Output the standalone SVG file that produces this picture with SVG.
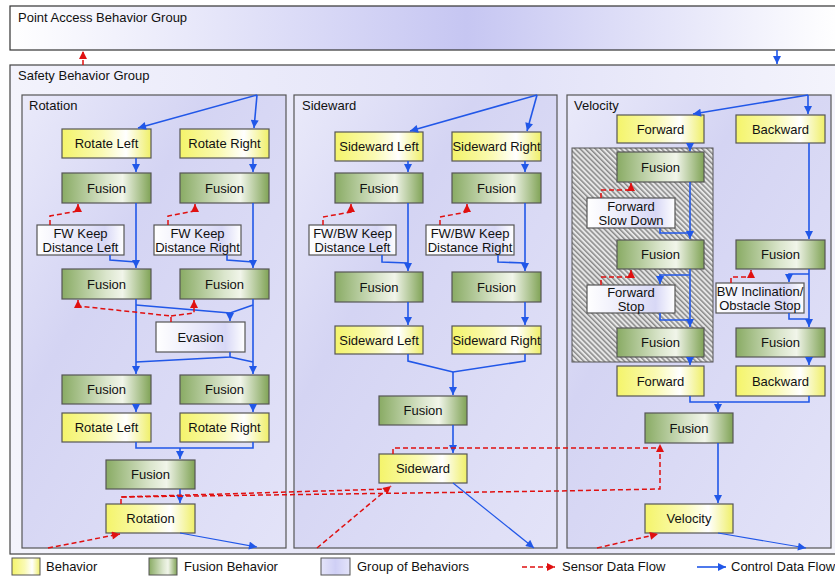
<svg xmlns="http://www.w3.org/2000/svg" width="835" height="579" viewBox="0 0 835 579">
<defs>
<linearGradient id="gBeh" x1="0" y1="0" x2="1" y2="0">
<stop offset="0" stop-color="#f4f46a"/><stop offset="0.45" stop-color="#fafab4"/><stop offset="0.72" stop-color="#ffffff"/><stop offset="1" stop-color="#efef68"/>
</linearGradient>
<linearGradient id="gFus" x1="0" y1="0" x2="1" y2="0">
<stop offset="0" stop-color="#89ab64"/><stop offset="0.5" stop-color="#dbe6cd"/><stop offset="0.68" stop-color="#f1f5ea"/><stop offset="1" stop-color="#80a356"/>
</linearGradient>
<linearGradient id="gWht" x1="0" y1="0" x2="1" y2="0">
<stop offset="0" stop-color="#ffffff"/><stop offset="0.6" stop-color="#e2e2f8"/><stop offset="0.78" stop-color="#d8d8f6"/><stop offset="1" stop-color="#ffffff"/>
</linearGradient>
<linearGradient id="gGrp" x1="0" y1="0" x2="1" y2="1">
<stop offset="0" stop-color="#eaeafa"/><stop offset="0.35" stop-color="#d4d4f3"/><stop offset="1" stop-color="#e3e3f8"/>
</linearGradient>
<linearGradient id="gSafe" x1="0" y1="0" x2="1" y2="0">
<stop offset="0" stop-color="#f3f3fc"/><stop offset="0.6" stop-color="#e2e2f8"/><stop offset="1" stop-color="#f4f4fc"/>
</linearGradient>
<linearGradient id="gPA" x1="0" y1="0" x2="1" y2="0">
<stop offset="0" stop-color="#ffffff"/><stop offset="0.55" stop-color="#c6c6f2"/><stop offset="1" stop-color="#ffffff"/>
</linearGradient>
<linearGradient id="gLeg" x1="0" y1="0" x2="1" y2="0">
<stop offset="0" stop-color="#e4e4fa"/><stop offset="0.5" stop-color="#cfcff5"/><stop offset="1" stop-color="#e4e4fa"/>
</linearGradient>
<pattern id="hatch" width="3.6" height="3.6" patternUnits="userSpaceOnUse" patternTransform="rotate(45)">
<rect width="3.6" height="3.6" fill="#e6e6e6"/><line x1="0" y1="1" x2="3.6" y2="1" stroke="#5a5a5a" stroke-width="1"/>
</pattern>
<marker id="ab" viewBox="0 0 10 10" refX="10" refY="5" markerWidth="9" markerHeight="8" markerUnits="userSpaceOnUse" orient="auto"><path d="M0,0 L10,5 L0,10 z" fill="#2157e8"/></marker>
<marker id="ar" viewBox="0 0 10 10" refX="10" refY="5" markerWidth="9" markerHeight="8" markerUnits="userSpaceOnUse" orient="auto"><path d="M0,0 L10,5 L0,10 z" fill="#e01010"/></marker>
<style>
text{font-family:"Liberation Sans",Arial,sans-serif;font-size:13px;fill:#111}
.c{text-anchor:middle}
.beh{fill:url(#gBeh);stroke:#555;stroke-width:1.2}
.fus{fill:url(#gFus);stroke:#555;stroke-width:1.2}
.wht{fill:url(#gWht);stroke:#555;stroke-width:1.2}
.grp{fill:url(#gGrp);stroke:#555;stroke-width:1.2}
.b{fill:none;stroke:#2157e8;stroke-width:1.6}
.ba{fill:none;stroke:#2157e8;stroke-width:1.6;marker-end:url(#ab)}
.bt{fill:none;stroke:#2157e8;stroke-width:1.2;marker-end:url(#ab)}
.r{fill:none;stroke:#e01010;stroke-width:1.5;stroke-dasharray:5 3}
.ra{fill:none;stroke:#e01010;stroke-width:1.5;stroke-dasharray:5 3;marker-end:url(#ar)}
</style>
</defs>
<rect width="835" height="579" fill="#ffffff"/>

<g id="point-access-group">
<rect x="10" y="6" width="830" height="44" fill="url(#gPA)" stroke="#333" stroke-width="1.2"/>
<text x="18" y="22">Point Access Behavior Group</text>
</g>
<g id="safety-group">
<rect x="10" y="65" width="830" height="489" fill="url(#gSafe)" stroke="#444" stroke-width="1.2"/>
<text x="18" y="80">Safety Behavior Group</text>
</g>
<g id="rotation-group">
<rect class="grp" x="22" y="95" width="264" height="453"/>
<text x="29" y="110">Rotation</text>
</g>
<g id="sideward-group">
<rect class="grp" x="294" y="95" width="263" height="453"/>
<text x="302" y="110">Sideward</text>
</g>
<g id="velocity-group">
<rect class="grp" x="567" y="95" width="264" height="453"/>
<text x="574" y="110">Velocity</text>
</g>
<g id="forward-hatch">
<rect x="572" y="148" width="141" height="214" fill="url(#hatch)" stroke="#555" stroke-width="1"/>
</g>

<!-- Rotation nodes -->
<g id="rot-rotate-left"><rect class="beh" x="62" y="129" width="89" height="29"/><text class="c" x="106.5" y="148">Rotate Left</text></g>
<g id="rot-rotate-right"><rect class="beh" x="180" y="129" width="89" height="29"/><text class="c" x="224.5" y="148">Rotate Right</text></g>
<g id="rot-fusion-l1"><rect class="fus" x="62" y="173" width="89" height="30"/><text class="c" x="106.5" y="192.5">Fusion</text></g>
<g id="rot-fusion-r1"><rect class="fus" x="180" y="173" width="89" height="30"/><text class="c" x="224.5" y="192.5">Fusion</text></g>
<g id="rot-keep-left"><rect class="wht" x="37" y="225" width="87" height="30"/><text class="c" x="80.5" y="237.5">FW Keep</text><text class="c" x="80.5" y="251.5">Distance Left</text></g>
<g id="rot-keep-right"><rect class="wht" x="154" y="225" width="87" height="30"/><text class="c" x="197.5" y="237.5">FW Keep</text><text class="c" x="197.5" y="251.5">Distance Right</text></g>
<g id="rot-fusion-l2"><rect class="fus" x="62" y="269" width="89" height="30"/><text class="c" x="106.5" y="288.5">Fusion</text></g>
<g id="rot-fusion-r2"><rect class="fus" x="180" y="269" width="89" height="30"/><text class="c" x="224.5" y="288.5">Fusion</text></g>
<g id="rot-evasion"><rect class="wht" x="156" y="322" width="89" height="30"/><text class="c" x="200.5" y="341.5">Evasion</text></g>
<g id="rot-fusion-l3"><rect class="fus" x="62" y="375" width="89" height="29"/><text class="c" x="106.5" y="394">Fusion</text></g>
<g id="rot-fusion-r3"><rect class="fus" x="180" y="375" width="89" height="29"/><text class="c" x="224.5" y="394">Fusion</text></g>
<g id="rot-rotate-left2"><rect class="beh" x="62" y="413" width="89" height="29"/><text class="c" x="106.5" y="432">Rotate Left</text></g>
<g id="rot-rotate-right2"><rect class="beh" x="180" y="413" width="89" height="29"/><text class="c" x="224.5" y="432">Rotate Right</text></g>
<g id="rot-fusion-c"><rect class="fus" x="106" y="460" width="89" height="29"/><text class="c" x="150.5" y="479">Fusion</text></g>
<g id="rot-rotation"><rect class="beh" x="106" y="504" width="89" height="29"/><text class="c" x="150.5" y="523">Rotation</text></g>

<!-- Sideward nodes -->
<g id="sid-left"><rect class="beh" x="335" y="132" width="88" height="29"/><text class="c" x="379" y="151">Sideward Left</text></g>
<g id="sid-right"><rect class="beh" x="452" y="132" width="89" height="29"/><text class="c" x="496.5" y="151">Sideward Right</text></g>
<g id="sid-fusion-l1"><rect class="fus" x="335" y="173" width="88" height="30"/><text class="c" x="379" y="192.5">Fusion</text></g>
<g id="sid-fusion-r1"><rect class="fus" x="452" y="173" width="89" height="30"/><text class="c" x="496.5" y="192.5">Fusion</text></g>
<g id="sid-keep-left"><rect class="wht" x="309" y="225" width="87" height="30"/><text class="c" x="352.5" y="237.5">FW/BW Keep</text><text class="c" x="352.5" y="251.5">Distance Left</text></g>
<g id="sid-keep-right"><rect class="wht" x="426" y="225" width="88" height="30"/><text class="c" x="470" y="237.5">FW/BW Keep</text><text class="c" x="470" y="251.5">Distance Right</text></g>
<g id="sid-fusion-l2"><rect class="fus" x="335" y="272" width="88" height="30"/><text class="c" x="379" y="291.5">Fusion</text></g>
<g id="sid-fusion-r2"><rect class="fus" x="452" y="272" width="89" height="30"/><text class="c" x="496.5" y="291.5">Fusion</text></g>
<g id="sid-left2"><rect class="beh" x="335" y="326" width="88" height="28"/><text class="c" x="379" y="344.5">Sideward Left</text></g>
<g id="sid-right2"><rect class="beh" x="452" y="326" width="89" height="28"/><text class="c" x="496.5" y="344.5">Sideward Right</text></g>
<g id="sid-fusion-c"><rect class="fus" x="379" y="396" width="88" height="29"/><text class="c" x="423" y="415">Fusion</text></g>
<g id="sid-sideward"><rect class="beh" x="379" y="454" width="88" height="29"/><text class="c" x="423" y="473">Sideward</text></g>

<!-- Velocity nodes -->
<g id="vel-forward"><rect class="beh" x="617" y="115" width="87" height="28"/><text class="c" x="660.5" y="133.5">Forward</text></g>
<g id="vel-backward"><rect class="beh" x="736" y="115" width="89" height="28"/><text class="c" x="780.5" y="133.5">Backward</text></g>
<g id="vel-fusion-f1"><rect class="fus" x="617" y="152" width="87" height="30"/><text class="c" x="660.5" y="171.5">Fusion</text></g>
<g id="vel-slowdown"><rect class="wht" x="587" y="198" width="88" height="30"/><text class="c" x="631" y="210.5">Forward</text><text class="c" x="631" y="224.5">Slow Down</text></g>
<g id="vel-fusion-f2"><rect class="fus" x="617" y="240" width="87" height="29"/><text class="c" x="660.5" y="259">Fusion</text></g>
<g id="vel-stop"><rect class="wht" x="587" y="285" width="88" height="28"/><text class="c" x="631" y="296.5">Forward</text><text class="c" x="631" y="310.5">Stop</text></g>
<g id="vel-fusion-f3"><rect class="fus" x="617" y="328" width="87" height="29"/><text class="c" x="660.5" y="347">Fusion</text></g>
<g id="vel-forward2"><rect class="beh" x="617" y="366" width="87" height="30"/><text class="c" x="660.5" y="385.5">Forward</text></g>
<g id="vel-fusion-b1"><rect class="fus" x="736" y="240" width="89" height="29"/><text class="c" x="780.5" y="259">Fusion</text></g>
<g id="vel-bw-incl"><rect class="wht" x="716" y="283" width="88" height="30"/><text class="c" x="760" y="295.5">BW Inclination/</text><text class="c" x="760" y="309.5">Obstacle Stop</text></g>
<g id="vel-fusion-b2"><rect class="fus" x="736" y="328" width="89" height="29"/><text class="c" x="780.5" y="347">Fusion</text></g>
<g id="vel-backward2"><rect class="beh" x="736" y="366" width="89" height="30"/><text class="c" x="780.5" y="385.5">Backward</text></g>
<g id="vel-fusion-c"><rect class="fus" x="645" y="413" width="88" height="30"/><text class="c" x="689" y="432.5">Fusion</text></g>
<g id="vel-velocity"><rect class="beh" x="645" y="504" width="88" height="29"/><text class="c" x="689" y="523">Velocity</text></g>

<g id="connectors">
<path class="ba" d="M777,50 V64"/>
<path class="ra" d="M83,65 V51"/>
<!-- rotation -->
<path class="ba" d="M257,95 L138,128"/>
<path class="ba" d="M257,95 L254,128"/>
<path class="ba" d="M136,158 V172"/>
<path class="ba" d="M253,158 V172"/>
<path class="ba" d="M136,203 V268"/>
<path class="ba" d="M253,203 V268"/>
<path class="b" d="M110,255 V260 L136,262"/>
<path class="b" d="M227,255 V260 L253,262"/>
<path class="ba" d="M136,299 V374"/>
<path class="ba" d="M253,299 V374"/>
<path class="b" d="M136,305 L230,313"/>
<path class="ba" d="M253,305 L230,313 V321"/>
<path class="b" d="M230,352 V357 L136,362"/>
<path class="b" d="M230,357 L253,362"/>
<path class="ba" d="M136,404 V412"/>
<path class="ba" d="M253,404 V412"/>
<path class="b" d="M136,442 V448 H253 V442"/>
<path class="ba" d="M180,448 V459"/>
<path class="ba" d="M180,489 V503"/>
<path class="bt" d="M180,533 L257,547"/>
<!-- sideward -->
<path class="ba" d="M537,95 L410,131"/>
<path class="ba" d="M537,95 L527,131"/>
<path class="ba" d="M408,161 V172"/>
<path class="ba" d="M525,161 V172"/>
<path class="ba" d="M408,203 V271"/>
<path class="ba" d="M525,203 V271"/>
<path class="b" d="M382,255 V262 L408,263"/>
<path class="b" d="M498,255 V262 L525,263"/>
<path class="ba" d="M408,302 V325"/>
<path class="ba" d="M525,302 V325"/>
<path class="b" d="M408,354 V361 L453,372 L525,361 V354"/>
<path class="ba" d="M453,372 V395"/>
<path class="ba" d="M453,425 V453"/>
<path class="bt" d="M453,483 L534,548"/>
<!-- velocity -->
<path class="ba" d="M808,95 L693,114"/>
<path class="ba" d="M808,95 V114"/>
<path class="ba" d="M690,143 V151"/>
<path class="ba" d="M809,143 V239"/>
<path class="ba" d="M690,182 V239"/>
<path class="b" d="M660,228 V233 H690"/>
<path class="ba" d="M690,269 V327"/>
<path class="ba" d="M690,275 H660 V284"/>
<path class="b" d="M660,313 V320 H690"/>
<path class="ba" d="M690,357 V365"/>
<path class="ba" d="M809,269 V327"/>
<path class="ba" d="M809,274 H789 V282"/>
<path class="b" d="M789,313 V319 H809"/>
<path class="ba" d="M809,357 V365"/>
<path class="b" d="M690,396 V402 H809 V396"/>
<path class="ba" d="M718,402 V412"/>
<path class="ba" d="M718,443 V503"/>
<path class="bt" d="M718,533 L806,548"/>
<!-- sensor data flow -->
<path class="ra" d="M50,225 V216 L78,211 V204"/>
<path class="ra" d="M168,225 V216 L195,211 V204"/>
<path class="ra" d="M171,322 V316 L78,306 V300"/>
<path class="ra" d="M171,316 L194,313 V300"/>
<path class="ra" d="M48,548 L120,534"/>
<path class="ra" d="M121,504 V497 L557,491 L660,489 V444"/>
<path class="r" d="M121,497 L389,489"/>
<path class="ra" d="M323,225 V217 L351,212 V204"/>
<path class="ra" d="M440,225 V217 L467,212 V204"/>
<path class="ra" d="M317,548 L391,486"/>
<path class="r" d="M393,454 V448 H660"/>
<path class="ra" d="M601,198 V190 H631 V183"/>
<path class="ra" d="M601,285 V277 H631 V270"/>
<path class="ra" d="M731,283 V277 H751 V270"/>
<path class="ra" d="M597,548 L658,534"/>
</g>

<g id="legend">
<rect x="12" y="558" width="28" height="17" fill="url(#gBeh)" stroke="#555"/>
<text x="46" y="571">Behavior</text>
<rect x="149" y="558" width="28" height="17" fill="url(#gFus)" stroke="#555"/>
<text x="184" y="571">Fusion Behavior</text>
<rect x="321" y="558" width="29" height="17" fill="url(#gLeg)" stroke="#555"/>
<text x="357" y="571">Group of Behaviors</text>
<path class="ra" d="M522,567 H555"/>
<text x="562" y="571">Sensor Data Flow</text>
<path class="ba" d="M697,567 H726"/>
<text x="731" y="571">Control Data Flow</text>
</g>
</svg>
